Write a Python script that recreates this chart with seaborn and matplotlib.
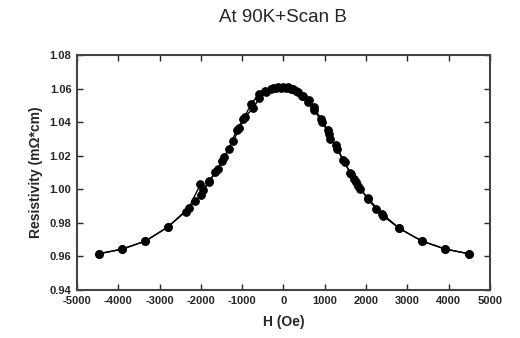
import matplotlib
matplotlib.use("Agg")
import matplotlib.pyplot as plt
import seaborn as sns
import pandas as pd

# Sweep from +H to -H
h_down = [4490, 3920, 3350, 2810, 2390, 2040, 1860, 1760, 1640, 1450, 1280, 1130, 1070, 910,
          730, 630, 470, 350, 225, 100, -20, -140, -260, -440, -600, -780, -970, -1130,
          -1320, -1480, -1650, -1810, -1990, -2130, -2370, -2800, -3340, -3900, -4470]
r_down = [0.9616, 0.9644, 0.9692, 0.9767, 0.9855, 0.9948, 1.0003, 1.0043, 1.0090, 1.0172,
          1.0262, 1.0302, 1.0355, 1.0422, 1.0488, 1.0534, 1.0558, 1.0582, 1.0598, 1.0608,
          1.0612, 1.0608, 1.0603, 1.0588, 1.0568, 1.0508, 1.0419, 1.0355, 1.0243, 1.0170,
          1.0102, 1.0043, 0.9969, 0.9933, 0.9867, 0.9775, 0.9692, 0.9644, 0.9616]

# Sweep from -H to +H
h_up = [-4470, -3900, -3340, -2800, -2290, -2010, -1950, -1800, -1580, -1440, -1210, -1065,
        -920, -740, -580, -430, -300, -180, -60, 60, 180, 300, 460, 600, 750, 940, 1100,
        1300, 1480, 1620, 1700, 1810, 2060, 2250, 2420, 2810, 3350, 3920, 4490]
r_up = [0.9616, 0.9644, 0.9692, 0.9775, 0.9890, 1.0030, 0.9995, 1.0050, 1.0119, 1.0190,
        1.0290, 1.0363, 1.0434, 1.0482, 1.0542, 1.0580, 1.0598, 1.0604, 1.0606, 1.0604,
        1.0598, 1.0585, 1.0556, 1.0520, 1.0470, 1.0400, 1.0330, 1.0240, 1.0160, 1.0099,
        1.0063, 1.0019, 0.9940, 0.9880, 0.9840, 0.9767, 0.9692, 0.9644, 0.9616]

x_ticks = [-5000, -4000, -3000, -2000, -1000, 0, 1000, 2000, 3000, 4000, 5000]
y_ticks = [0.94, 0.96, 0.98, 1.00, 1.02, 1.04, 1.06, 1.08]

sns.set_style("white")
plt.rcParams['font.family'] = ['Liberation Sans', 'DejaVu Sans']

df = pd.concat([
    pd.DataFrame({"H": h_down, "R": r_down, "sweep": "down", "i": range(len(h_down))}),
    pd.DataFrame({"H": h_up, "R": r_up, "sweep": "up", "i": range(len(h_up))}),
])

fig = plt.figure(figsize=(5.2, 3.38), dpi=100)
ax = fig.add_axes([0.148, 0.142, 0.794, 0.695])

sns.lineplot(data=df, x="H", y="R", units="sweep", estimator=None, sort=False,
             color="black", linewidth=1.0, marker="o", markersize=5.5,
             markeredgecolor="black", markerfacecolor="black", ax=ax, legend=False)

ax.set_xlim(-5000, 5000)
ax.set_ylim(0.94, 1.08)
ax.set_xticks(x_ticks)
ax.set_yticks(y_ticks)
ax.set_xticklabels([str(t) for t in x_ticks], fontsize=8, fontweight="bold")
ax.set_yticklabels([f"{t:.2f}" for t in y_ticks], fontsize=8, fontweight="bold")
ax.tick_params(direction="in", length=4, width=1, top=True, right=True,
               bottom=True, left=True, labeltop=False, labelright=False, pad=4)
for s in ax.spines.values():
    s.set_visible(True)
    s.set_color("#444444")
    s.set_linewidth(1.5)

ax.set_xlabel("H (Oe)", fontsize=10, fontweight="bold", labelpad=7)
ax.set_ylabel("Resistivity (mΩ*cm)", fontsize=10, fontweight="bold", labelpad=5)
ax.set_title("At 90K+Scan B", fontsize=13.5, pad=24)

fig.savefig("out.png", dpi=100)
